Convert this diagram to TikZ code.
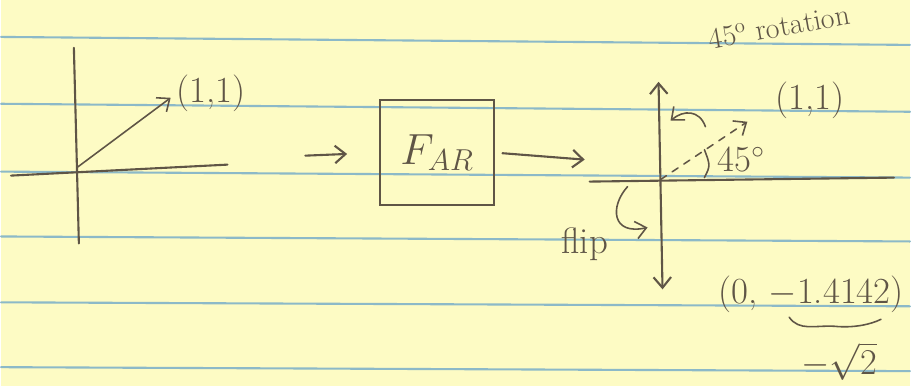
\documentclass[tikz,border=0pt]{standalone}
\usetikzlibrary{arrows.meta,positioning}
\definecolor{paper}{RGB}{253,251,196}
\definecolor{ruled}{RGB}{140,185,200}
\definecolor{ink}{RGB}{95,85,70}

\begin{document}
\begin{tikzpicture}[x=0.02cm,y=-0.02cm, line cap=round,
    pen/.style={draw=ink, line width=1.2pt},
    hand/.style={-{Straight Barb[length=6pt,width=10pt]}},
    lbl/.style={text=ink, font=\fontsize{21}{24}\selectfont, inner sep=1pt}]
        % paper
        \fill[paper] (0,0) rectangle (911,387);
        \foreach \a/\b in {37/45,104/112,172/178,237/242,303/307,368/372}
            \draw[ruled, line width=1.2pt] (0,\a) -- (911,\b);
        % before
        \coordinate (o1) at (76,168);
        \coordinate (v1) at (170,98);
        \draw[pen] (73,48) -- (78,244);
        \draw[pen] (10,176) -- (227,165);
        \draw[pen, line width=0.9pt, hand] (o1) -- (v1);
        \node[lbl, anchor=west] (p1) at (174,94) {(1,1)};
        % the map
        \node[pen, lbl, minimum width=2.3cm, minimum height=2.1cm,
              font=\fontsize{27}{30}\selectfont] (far) at (437,153) {$F_{AR}$};
        \coordinate (in0) at (305,156);
        \coordinate (out1) at (585,160);
        \draw[pen, hand, shorten >=18pt] (in0) -- (far.west);
        \draw[pen, hand, shorten <=4pt] (far.east) -- (out1);
        % after
        \coordinate (o2) at (661,180);
        \coordinate (v2) at (748,122);
        \draw[pen, {Straight Barb[length=6pt,width=10pt]}-{Straight Barb[length=6pt,width=10pt]}] (659,82) -- (663,290);
        \draw[pen] (590,182) -- (895,178);
        \draw[pen, line width=0.9pt, hand, dash pattern=on 4pt off 4pt] (o2) -- (v2);
        \node[lbl, anchor=west] (p2) at (774,101) {(1,1)};
        \draw[pen, line width=0.9pt, hand] (706,127) .. controls (700,110) and (684,110) .. (671,121);
        \node[lbl, font=\fontsize{17}{20}\selectfont, rotate=10] (rot) at (780,27) {45\textsuperscript{o} rotation};
        \draw[pen, line width=0.9pt] (705,178) .. controls (711,166) .. (705,150);
        \node[lbl] (ang) at (742,160) {45$^\circ$};
        \node[lbl] (flip) at (585,245) {flip};
        \draw[pen, line width=0.9pt, hand] (628,187) .. controls (610,207) and (612,236) .. (648,228);
        \node[lbl] (pt) at (812,295) {(0, $-$1.4142)};
        \draw[pen, line width=0.9pt] (790,318) .. controls (800,332) and (815,326) .. (835,327)
              .. controls (855,329) and (872,325) .. (882,320);
        \node[lbl] (rt) at (840,362) {$-\sqrt{2}$};
\end{tikzpicture}
\end{document}
